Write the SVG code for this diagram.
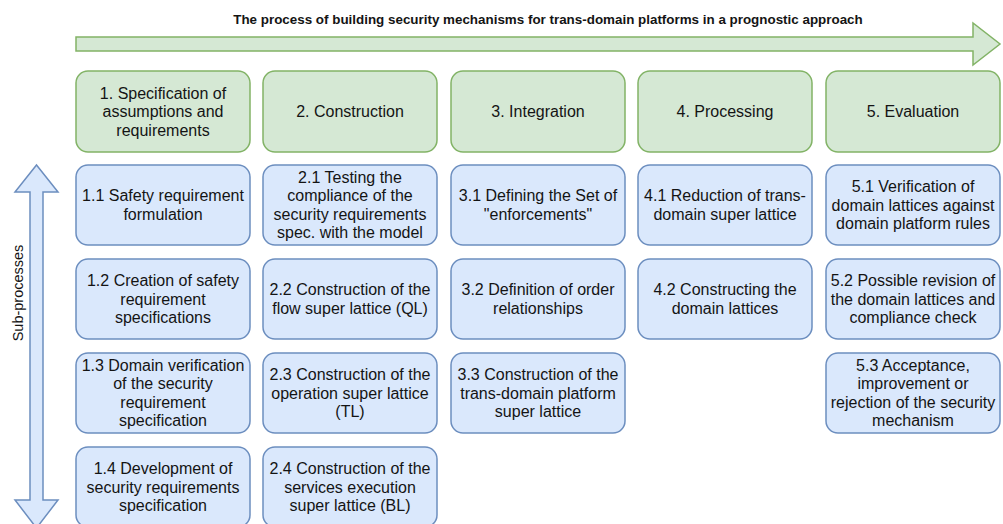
<svg xmlns="http://www.w3.org/2000/svg" width="1003" height="524" viewBox="0 0 1003 524">
  <style>
    .phase rect { fill: #d5e8d4; stroke: #82b366; stroke-width: 1.5; }
    .sub rect { fill: #dae8fc; stroke: #6c8ebf; stroke-width: 1.5; }
    .lbl { font-family: "Liberation Sans", Arial, sans-serif; font-size: 16px; fill: #141414; text-anchor: middle; }
    .title { font-family: "Liberation Sans", Arial, sans-serif; font-size: 13.4px; font-weight: bold; fill: #141414; text-anchor: middle; }
    .side { font-family: "Liberation Sans", Arial, sans-serif; font-size: 14.5px; fill: #141414; text-anchor: middle; }
  </style>

  <rect width="1003" height="524" fill="#ffffff"/>

  <!-- heading over the process arrow -->
  <text class="title" x="548" y="24">The process of building security mechanisms for trans-domain platforms in a prognostic approach</text>

  <g id="connectors">
    <!-- horizontal process arrow -->
    <path d="M76 37 H973 V23 L1000 44 L973 65 V51 H76 Z" fill="#d5e8d4" stroke="#82b366" stroke-width="1.5" stroke-linejoin="miter"/>
    <!-- vertical double-headed sub-process arrow -->
    <path d="M36.5 165 L58 192 H43 V500 H58 L36.5 528 L15 500 H30 V192 H15 Z" fill="#dae8fc" stroke="#6c8ebf" stroke-width="1.5"/>
  </g>
  <text class="side" transform="translate(23 293) rotate(-90)">Sub-processes</text>

  <!-- phases -->
  <g id="phase1" class="phase">
    <rect x="76" y="71" width="174" height="81" rx="12"/>
    <text class="lbl" x="163" y="98.6"><tspan x="163">1. Specification of</tspan><tspan x="163" dy="18.5">assumptions and</tspan><tspan x="163" dy="18.5">requirements</tspan></text>
  </g>
  <g id="phase2" class="phase">
    <rect x="263" y="71" width="174" height="81" rx="12"/>
    <text class="lbl" x="350" y="117">2. Construction</text>
  </g>
  <g id="phase3" class="phase">
    <rect x="451" y="71" width="174" height="81" rx="12"/>
    <text class="lbl" x="538" y="117">3. Integration</text>
  </g>
  <g id="phase4" class="phase">
    <rect x="638" y="71" width="174" height="81" rx="12"/>
    <text class="lbl" x="725" y="117">4. Processing</text>
  </g>
  <g id="phase5" class="phase">
    <rect x="826" y="71" width="174" height="81" rx="12"/>
    <text class="lbl" x="913" y="117">5. Evaluation</text>
  </g>

  <!-- column 1 -->
  <g id="sub1-1" class="sub">
    <rect x="76" y="165" width="174" height="80" rx="12"/>
    <text class="lbl" y="201.35"><tspan x="163">1.1 Safety requirement</tspan><tspan x="163" dy="18.5">formulation</tspan></text>
  </g>
  <g id="sub1-2" class="sub">
    <rect x="76" y="259" width="174" height="80" rx="12"/>
    <text class="lbl" y="286.1"><tspan x="163">1.2 Creation of safety</tspan><tspan x="163" dy="18.5">requirement</tspan><tspan x="163" dy="18.5">specifications</tspan></text>
  </g>
  <g id="sub1-3" class="sub">
    <rect x="76" y="353" width="174" height="80" rx="12"/>
    <text class="lbl" y="370.85"><tspan x="163">1.3 Domain verification</tspan><tspan x="163" dy="18.5">of the security</tspan><tspan x="163" dy="18.5">requirement</tspan><tspan x="163" dy="18.5">specification</tspan></text>
  </g>
  <g id="sub1-4" class="sub">
    <rect x="76" y="447" width="174" height="80" rx="12"/>
    <text class="lbl" y="474.1"><tspan x="163">1.4 Development of</tspan><tspan x="163" dy="18.5">security requirements</tspan><tspan x="163" dy="18.5">specification</tspan></text>
  </g>

  <!-- column 2 -->
  <g id="sub2-1" class="sub">
    <rect x="263" y="165" width="174" height="80" rx="12"/>
    <text class="lbl" y="182.85"><tspan x="350">2.1 Testing the</tspan><tspan x="350" dy="18.5">compliance of the</tspan><tspan x="350" dy="18.5">security requirements</tspan><tspan x="350" dy="18.5">spec. with the model</tspan></text>
  </g>
  <g id="sub2-2" class="sub">
    <rect x="263" y="259" width="174" height="80" rx="12"/>
    <text class="lbl" y="295.35"><tspan x="350">2.2 Construction of the</tspan><tspan x="350" dy="18.5">flow super lattice (QL)</tspan></text>
  </g>
  <g id="sub2-3" class="sub">
    <rect x="263" y="353" width="174" height="80" rx="12"/>
    <text class="lbl" y="380.1"><tspan x="350">2.3 Construction of the</tspan><tspan x="350" dy="18.5">operation super lattice</tspan><tspan x="350" dy="18.5">(TL)</tspan></text>
  </g>
  <g id="sub2-4" class="sub">
    <rect x="263" y="447" width="174" height="80" rx="12"/>
    <text class="lbl" y="474.1"><tspan x="350">2.4 Construction of the</tspan><tspan x="350" dy="18.5">services execution</tspan><tspan x="350" dy="18.5">super lattice (BL)</tspan></text>
  </g>

  <!-- column 3 -->
  <g id="sub3-1" class="sub">
    <rect x="451" y="165" width="174" height="80" rx="12"/>
    <text class="lbl" y="201.35"><tspan x="538">3.1 Defining the Set of</tspan><tspan x="538" dy="18.5">"enforcements"</tspan></text>
  </g>
  <g id="sub3-2" class="sub">
    <rect x="451" y="259" width="174" height="80" rx="12"/>
    <text class="lbl" y="295.35"><tspan x="538">3.2 Definition of order</tspan><tspan x="538" dy="18.5">relationships</tspan></text>
  </g>
  <g id="sub3-3" class="sub">
    <rect x="451" y="353" width="174" height="80" rx="12"/>
    <text class="lbl" y="380.1"><tspan x="538">3.3 Construction of the</tspan><tspan x="538" dy="18.5">trans-domain platform</tspan><tspan x="538" dy="18.5">super lattice</tspan></text>
  </g>

  <!-- column 4 -->
  <g id="sub4-1" class="sub">
    <rect x="638" y="165" width="174" height="80" rx="12"/>
    <text class="lbl" y="201.35"><tspan x="725">4.1 Reduction of trans-</tspan><tspan x="725" dy="18.5">domain super lattice</tspan></text>
  </g>
  <g id="sub4-2" class="sub">
    <rect x="638" y="259" width="174" height="80" rx="12"/>
    <text class="lbl" y="295.35"><tspan x="725">4.2 Constructing the</tspan><tspan x="725" dy="18.5">domain lattices</tspan></text>
  </g>

  <!-- column 5 -->
  <g id="sub5-1" class="sub">
    <rect x="826" y="165" width="174" height="80" rx="12"/>
    <text class="lbl" y="192.1"><tspan x="913">5.1 Verification of</tspan><tspan x="913" dy="18.5">domain lattices against</tspan><tspan x="913" dy="18.5">domain platform rules</tspan></text>
  </g>
  <g id="sub5-2" class="sub">
    <rect x="826" y="259" width="174" height="80" rx="12"/>
    <text class="lbl" y="286.1"><tspan x="913">5.2 Possible revision of</tspan><tspan x="913" dy="18.5">the domain lattices and</tspan><tspan x="913" dy="18.5">compliance check</tspan></text>
  </g>
  <g id="sub5-3" class="sub">
    <rect x="826" y="353" width="174" height="80" rx="12"/>
    <text class="lbl" y="370.85"><tspan x="913">5.3 Acceptance,</tspan><tspan x="913" dy="18.5">improvement or</tspan><tspan x="913" dy="18.5">rejection of the security</tspan><tspan x="913" dy="18.5">mechanism</tspan></text>
  </g>
</svg>
